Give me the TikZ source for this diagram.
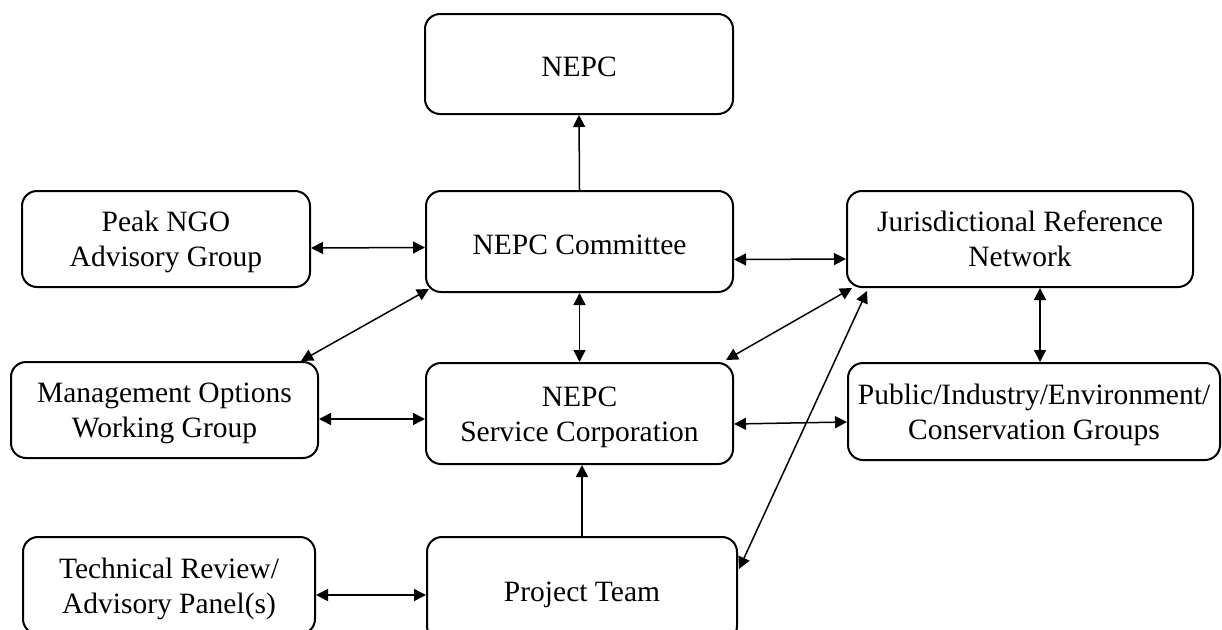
\documentclass[tikz,border=0pt]{standalone}
\usepackage{fontspec}
\setmainfont{Liberation Serif}
\usetikzlibrary{arrows.meta}
\newcommand\mydstrut{\rule[-6.5pt]{0pt}{6.5pt}}
\newcommand\myhstrut{\rule{0pt}{27pt}}
\newcommand\myonestrut{\rule[-6.5pt]{0pt}{38.6pt}}
\begin{document}
\begin{tikzpicture}[x=1pt,y=-1pt,
  box/.style={draw,line width=2pt,rounded corners=15pt,align=center,inner sep=0pt,
    font=\fontsize{29.5}{35}\selectfont},
  link/.style={line width=1.5pt,{Triangle[length=12pt,width=12pt]}-{Triangle[length=12pt,width=12pt]}},
  onelink/.style={line width=1.5pt,-{Triangle[length=12pt,width=12pt]}}]
\useasboundingbox (0,0) rectangle (1222,629);
\node[box,minimum width=308pt,minimum height=100pt] (nepc) at (579,64) {\myonestrut NEPC};
\node[box,minimum width=288pt,minimum height=96pt] (peak) at (166,239) {\myhstrut Peak NGO\\Advisory Group\mydstrut};
\node[box,minimum width=307pt,minimum height=101pt] (comm) at (579.5,241.5) {\myonestrut NEPC Committee};
\node[box,minimum width=346pt,minimum height=96pt] (jrn) at (1020,239) {\myhstrut Jurisdictional Reference\\Network\mydstrut};
\node[box,minimum width=307pt,minimum height=96pt] (mgmt) at (164.5,410) {\myhstrut Management Options\\Working Group\mydstrut};
\node[box,minimum width=307pt,minimum height=101pt] (sc) at (579.5,413.5) {\myhstrut NEPC\\Service Corporation\mydstrut};
\node[box,minimum width=372pt,minimum height=97pt] (pub) at (1034,411.5) {\myhstrut Public/Industry/Environment/\\Conservation Groups\mydstrut};
\node[box,minimum width=292pt,minimum height=97pt] (tech) at (169,585.5) {\myhstrut Technical Review/\\Advisory Panel(s)\mydstrut};
\node[box,minimum width=310pt,minimum height=104pt] (pt) at (582,589) {\myonestrut Project Team};

\draw[onelink] (comm.north) -- (nepc.south);
\draw[link] ([yshift=-9pt]peak.east) -- ([yshift=-6pt]comm.west);
\draw[link] ([yshift=-18pt]comm.east) -- ([yshift=-20pt]jrn.west);
\draw[link] (comm.south) -- (sc.north);
\draw[link] ([yshift=-9pt]mgmt.east) -- ([yshift=-5.5pt]sc.west);
\draw[link] ([yshift=-10.5pt]sc.east) -- ([yshift=-10.5pt]pub.west);
\draw[link] ([xshift=20pt]jrn.south) -- ([xshift=6pt]pub.north);
\draw[link] ([xshift=-18pt]mgmt.north east) -- ([xshift=4pt,yshift=4pt]comm.south west);
\draw[link] ([xshift=6pt]jrn.south west) -- ([xshift=-8pt,yshift=2pt]sc.north east);
\draw[link] ([xshift=21pt,yshift=-3pt]jrn.south west) -- ([xshift=1pt,yshift=-33pt]pt.north east);
\draw[onelink] (pt.north) -- ([xshift=2.5pt]sc.south);
\draw[link] ([yshift=-9.5pt]tech.east) -- ([yshift=-6pt]pt.west);
\end{tikzpicture}
\end{document}
